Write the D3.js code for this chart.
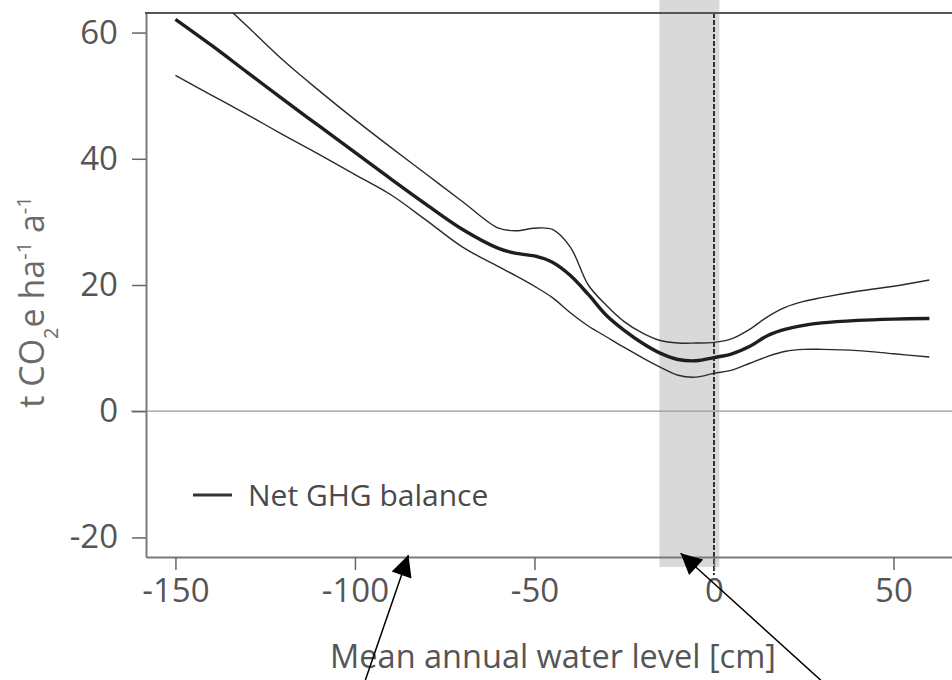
<!DOCTYPE html>
<html>
<head>
<meta charset="utf-8">
<script src="https://cdn.jsdelivr.net/npm/d3@7"></script>
<style>
  body { margin: 0; background: #fff; }
  svg { display: block; }
</style>
</head>
<body>
<div id="chart"></div>
<script>

////////////////////////////////////////////////////////
// Data ////////////////////////////////////////////////
////////////////////////////////////////////////////////

// mean annual water level [cm]
var waterLevel = [-150, -140, -130, -120, -110, -100, -90, -80, -70, -60, -55, -50, -45, -40, -35,
                  -30, -25, -20, -15, -10, -5, 0, 5, 10, 15, 20, 25, 30, 40, 50, 60];

// net GHG balance, fitted curve and confidence band (t CO2e ha-1 a-1)
var ghgMean  = [62.1, 58.0, 53.7, 49.4, 45.2, 41.0, 36.8, 32.7, 28.8, 25.8, 25.0, 24.6, 23.6, 21.5, 18.5,
                15.2, 12.8, 10.8, 9.2, 8.2, 8.0, 8.5, 9.1, 10.3, 12.0, 13.0, 13.6, 14.0, 14.4, 14.6, 14.7];
var ghgUpper = [71.5, 66.3, 61.0, 55.6, 50.8, 46.2, 41.8, 37.5, 33.2, 29.0, 28.6, 29.0, 28.8, 26.0, 20.0,
                16.8, 14.2, 12.4, 11.2, 10.8, 10.8, 10.9, 11.5, 13.0, 15.0, 16.5, 17.4, 18.0, 19.0, 19.8, 20.8];
var ghgLower = [53.2, 50.1, 47.0, 43.8, 40.7, 37.5, 34.3, 30.2, 26.0, 22.9, 21.4, 19.8, 18.0, 15.6, 13.5,
                11.8, 10.1, 8.5, 7.0, 5.7, 5.4, 6.0, 6.5, 7.6, 8.7, 9.5, 9.8, 9.8, 9.6, 9.1, 8.6];

var xTicks = [-150, -100, -50, 0, 50];
var yTicks = [-20, 0, 20, 40, 60];

// shaded water level range and reference line
var bandRange = [-15.2, 1.5];
var refLevel = 0;

// annotation arrows, [x, y] in data units: tail -> tip
var arrows = [
  { from: [-97.1, -42.6], to: [-85.1, -22.8] },
  { from: [29.7, -42.6],  to: [-9.3, -22.5] }
];

////////////////////////////////////////////////////////
// Initial options /////////////////////////////////////
////////////////////////////////////////////////////////

var cfg = {
  width: 952,
  height: 680,
  plot: { left: 146, right: 952, top: 13, bottom: 557 },
  xDomain: [-158.2, 66.3],
  yDomain: [-23.1, 63.1],
  font: "'Open Sans', Lato, sans-serif",
  textColor: "#555",
  axisColor: "#7a7a7a"
};

var x = d3.scaleLinear()
  .domain(cfg.xDomain)
  .range([cfg.plot.left, cfg.plot.right]);

var y = d3.scaleLinear()
  .domain(cfg.yDomain)
  .range([cfg.plot.bottom, cfg.plot.top]);

////////////////////////////////////////////////////////
// SVG /////////////////////////////////////////////////
////////////////////////////////////////////////////////

var svg = d3.select("#chart").append("svg")
  .attr("width", cfg.width)
  .attr("height", cfg.height)
  .style("font-family", cfg.font);

svg.append("defs").append("clipPath")
  .attr("id", "plotClip")
  .append("rect")
  .attr("x", cfg.plot.left)
  .attr("y", cfg.plot.top)
  .attr("width", cfg.plot.right - cfg.plot.left)
  .attr("height", cfg.plot.bottom - cfg.plot.top);

svg.select("defs").append("marker")
  .attr("id", "arrowHead")
  .attr("viewBox", "0 0 10 10")
  .attr("refX", 10)
  .attr("refY", 5)
  .attr("markerWidth", 32)
  .attr("markerHeight", 21)
  .attr("markerUnits", "userSpaceOnUse")
  .attr("orient", "auto")
  .append("path")
  .attr("d", "M0,0L10,5L0,10Z")
  .attr("fill", "#000");

////////////////////////////////////////////////////////
// Band and reference lines ////////////////////////////
////////////////////////////////////////////////////////

svg.append("rect")
  .attr("x", x(bandRange[0]))
  .attr("y", 0)
  .attr("width", x(bandRange[1]) - x(bandRange[0]))
  .attr("height", cfg.plot.bottom + 10)
  .attr("fill", "#d9d9d9");

// zero line
svg.append("line")
  .attr("x1", cfg.plot.left - 15)
  .attr("x2", cfg.plot.right)
  .attr("y1", y(0))
  .attr("y2", y(0))
  .attr("stroke", "#9a9a9a")
  .attr("stroke-width", 1.2);

// dashed reference at 0 cm
svg.append("line")
  .attr("x1", x(refLevel))
  .attr("x2", x(refLevel))
  .attr("y1", cfg.plot.top)
  .attr("y2", cfg.plot.bottom + 18)
  .attr("stroke", "#222")
  .attr("stroke-width", 1.8)
  .attr("stroke-dasharray", "5,2");

////////////////////////////////////////////////////////
// Axes ////////////////////////////////////////////////
////////////////////////////////////////////////////////

var plainNum = function(d) { return String(d); };  // hyphen minus like the print

var xAxis = svg.append("g")
  .attr("transform", "translate(0," + cfg.plot.bottom + ")")
  .call(d3.axisBottom(x).tickValues(xTicks).tickFormat(plainNum)
    .tickSize(13).tickPadding(9).tickSizeOuter(0));

var yAxis = svg.append("g")
  .attr("transform", "translate(" + cfg.plot.left + ",0)")
  .call(d3.axisLeft(y).tickValues(yTicks).tickFormat(plainNum)
    .tickSize(14).tickPadding(14).tickSizeOuter(0));

[xAxis, yAxis].forEach(function(ax) {
  ax.select(".domain").attr("stroke", cfg.axisColor).attr("stroke-width", 2);
  ax.selectAll(".tick line").attr("stroke", "#666").attr("stroke-width", 1.5);
  ax.selectAll(".tick text")
    .attr("fill", cfg.textColor)
    .style("font-family", cfg.font)
    .style("font-size", "33px");
});

// top frame line
svg.append("line")
  .attr("x1", cfg.plot.left - 1)
  .attr("x2", cfg.plot.right)
  .attr("y1", cfg.plot.top)
  .attr("y2", cfg.plot.top)
  .attr("stroke", "#555")
  .attr("stroke-width", 2);

// axis titles
svg.append("text")
  .attr("x", 553)
  .attr("y", 668)
  .attr("text-anchor", "middle")
  .attr("fill", cfg.textColor)
  .style("font-size", "32.5px")
  .text("Mean annual water level [cm]");

var yTitle = svg.append("text")
  .attr("transform", "translate(44," + 302 + ") rotate(-90)")
  .attr("text-anchor", "middle")
  .attr("fill", "#6a6a6a")
  .style("font-size", "34px");
yTitle.append("tspan").text("t CO");
yTitle.append("tspan").attr("baseline-shift", "sub").style("font-size", "20px").text("2");
yTitle.append("tspan").text("e ha");
yTitle.append("tspan").attr("baseline-shift", "super").style("font-size", "20px").text("-1");
yTitle.append("tspan").text(" a");
yTitle.append("tspan").attr("baseline-shift", "super").style("font-size", "20px").text("-1");

////////////////////////////////////////////////////////
// Curves //////////////////////////////////////////////
////////////////////////////////////////////////////////

function lineFor(values) {
  return d3.line()
    .x(function(d, i) { return x(waterLevel[i]); })
    .y(function(d) { return y(d); })
    .curve(d3.curveCatmullRom.alpha(0.5))(values);
}

var curves = svg.append("g").attr("clip-path", "url(#plotClip)");

[ghgUpper, ghgLower].forEach(function(s) {
  curves.append("path")
    .attr("d", lineFor(s))
    .attr("fill", "none")
    .attr("stroke", "#2a2a2a")
    .attr("stroke-width", 1.4);
});

curves.append("path")
  .attr("d", lineFor(ghgMean))
  .attr("fill", "none")
  .attr("stroke", "#1e1e1e")
  .attr("stroke-width", 3.4);

////////////////////////////////////////////////////////
// Legend //////////////////////////////////////////////
////////////////////////////////////////////////////////

var legend = svg.append("g").attr("transform", "translate(193,495)");

legend.append("line")
  .attr("x1", 0).attr("x2", 39)
  .attr("y1", 0).attr("y2", 0)
  .attr("stroke", "#333")
  .attr("stroke-width", 3);

legend.append("text")
  .attr("x", 55)
  .attr("y", 0)
  .attr("dy", "0.35em")
  .attr("fill", "#4a4a4a")
  .style("font-size", "30px")
  .text("Net GHG balance");

////////////////////////////////////////////////////////
// Annotation arrows ///////////////////////////////////
////////////////////////////////////////////////////////

svg.selectAll(".arrow")
  .data(arrows)
  .enter().append("line")
  .attr("class", "arrow")
  .attr("x1", function(d) { return x(d.from[0]); })
  .attr("y1", function(d) { return y(d.from[1]); })
  .attr("x2", function(d) { return x(d.to[0]); })
  .attr("y2", function(d) { return y(d.to[1]); })
  .attr("stroke", "#000")
  .attr("stroke-width", 1.5)
  .attr("marker-end", "url(#arrowHead)");

</script>
</body>
</html>
